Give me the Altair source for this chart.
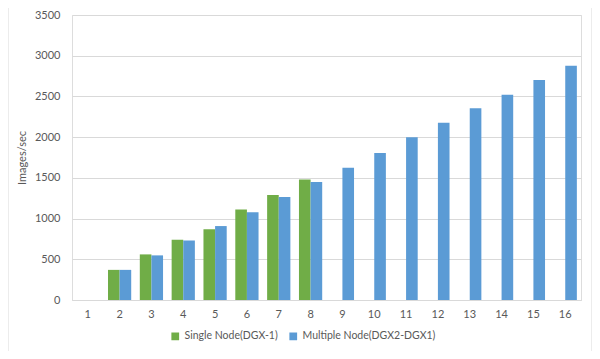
import altair as alt
import pandas as pd

categories = [str(i) for i in range(1, 17)]
single_node = [None, 370, 560, 740, 870, 1110, 1290, 1480, None, None, None, None, None, None, None, None]
multi_node = [None, 370, 548, 730, 908, 1078, 1265, 1450, 1625, 1805, 2000, 2178, 2354, 2521, 2702, 2877]
series_names = ["Single Node(DGX-1)", "Multiple Node(DGX2-DGX1)"]
colors = ["#70AD47", "#5B9BD5"]

rows = []
for c, s, m in zip(categories, single_node, multi_node):
    if s is not None:
        rows.append({"n": c, "series": series_names[0], "value": s})
    if m is not None:
        rows.append({"n": c, "series": series_names[1], "value": m})
df = pd.DataFrame(rows)

font = "Lato"

bars = alt.Chart(df).mark_bar().encode(
    x=alt.X("n:N", scale=alt.Scale(domain=categories, paddingInner=0.27, paddingOuter=0.13),
            axis=alt.Axis(title=None, labelAngle=0, ticks=False, domainColor="#D9D9D9",
                          labelColor="#595959", labelFontSize=11, labelFont=font, labelPadding=8)),
    xOffset=alt.XOffset("series:N", sort=series_names, scale=alt.Scale(domain=series_names, paddingInner=0)),
    y=alt.Y("value:Q", scale=alt.Scale(domain=[0, 3500]),
            axis=alt.Axis(title="Images/sec", values=list(range(0, 3501, 500)), format="d",
                          ticks=False, domain=False,
                          gridColor="#D9D9D9", labelColor="#595959", labelFontSize=11, labelFont=font,
                          labelPadding=12, titleFont=font, titleFontSize=11, titleFontWeight="normal",
                          titleColor="#595959", titlePadding=7)),
    color=alt.Color("series:N", sort=series_names,
                    scale=alt.Scale(domain=series_names, range=colors),
                    legend=alt.Legend(title=None, orient="none", direction="horizontal",
                                      legendX=98, legendY=316, symbolType="square", symbolSize=60,
                                      labelFont=font, labelFontSize=10.5, labelColor="#595959",
                                      columnPadding=10, symbolStrokeWidth=0)),
)

border = alt.Chart(pd.DataFrame({"a": [0]})).mark_rect(
    fill=None, stroke="#D9D9D9", strokeWidth=1
).encode(x=alt.value(-64), x2=alt.value(520), y=alt.value(-11), y2=alt.value(338))

chart = alt.layer(border, bars).properties(
    width=509, height=285,
    autosize=alt.AutoSizeParams(type="none"),
    padding={"left": 64, "top": 7, "right": 11, "bottom": 51},
).configure_view(stroke=None).configure(background="white")

chart.save("out.html", embed_options={"renderer": "svg", "actions": False})
